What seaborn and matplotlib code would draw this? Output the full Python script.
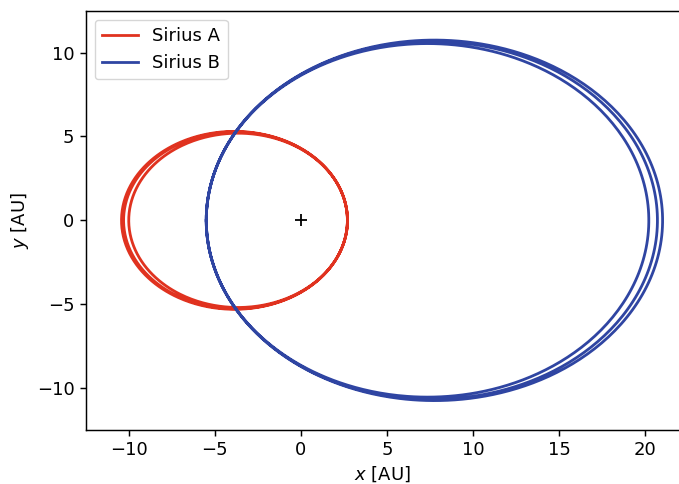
import numpy as np
import pandas as pd
import matplotlib.pyplot as plt
import seaborn as sns

# orbit loops: closest and farthest distance from the
# centre of mass (AU), one entry per loop
stars = ["Sirius A", "Sirius B"]
peri_a = [2.7, 2.7, 2.7]
apo_a = [10.0, 10.3, 10.42]
peri_b = [5.5, 5.5, 5.5]
apo_b = [20.2, 20.7, 21.0]
colors = ["#e0321f", "#2f45a2"]


def orbit(peri, apo, side):
    """Points of a Kepler ellipse with the focus at the origin."""
    theta = np.linspace(0, 2 * np.pi, 500)
    e = (apo - peri) / (apo + peri)
    p = peri * (1 + e)
    r = p / (1 + e * np.cos(theta))
    return side * r * np.cos(theta), side * r * np.sin(theta)


rows = []
for star, peris, apos, side in [("Sirius A", peri_a, apo_a, 1), ("Sirius B", peri_b, apo_b, -1)]:
    step = 0
    for peri, apo in zip(peris, apos):
        x, y = orbit(peri, apo, side)
        for xi, yi in zip(x, y):
            rows.append({"star": star, "x": xi, "y": yi, "step": step})
            step += 1
df = pd.DataFrame(rows)

plt.rcParams.update({
    "axes.linewidth": 1.05,
    "xtick.major.size": 4.6,
    "ytick.major.size": 4.6,
    "xtick.major.width": 1.05,
    "ytick.major.width": 1.05,
})

fig = plt.figure(figsize=(6.79, 4.84), dpi=100)
ax = fig.add_axes([0.1262, 0.1116, 0.875, 0.8663])

sns.lineplot(data=df, x="x", y="y", hue="star", hue_order=stars, palette=colors,
             sort=False, estimator=None, units="star", lw=2, ax=ax)
ax.plot(0, 0, "k+", markersize=8, markeredgewidth=1.3)

ax.set_xlim(-12.5, 22)
ax.set_ylim(-12.5, 12.5)
ax.set_xticks([-10, -5, 0, 5, 10, 15, 20])
ax.set_yticks([-10, -5, 0, 5, 10])
ax.tick_params(labelsize=13)
ax.set_xlabel("$x$ [AU]", fontsize=13, labelpad=4)
ax.set_ylabel("$y$ [AU]", fontsize=13)
ax.legend(loc="upper left", fontsize=13, title=None)

fig.savefig("out.png", dpi=100)
